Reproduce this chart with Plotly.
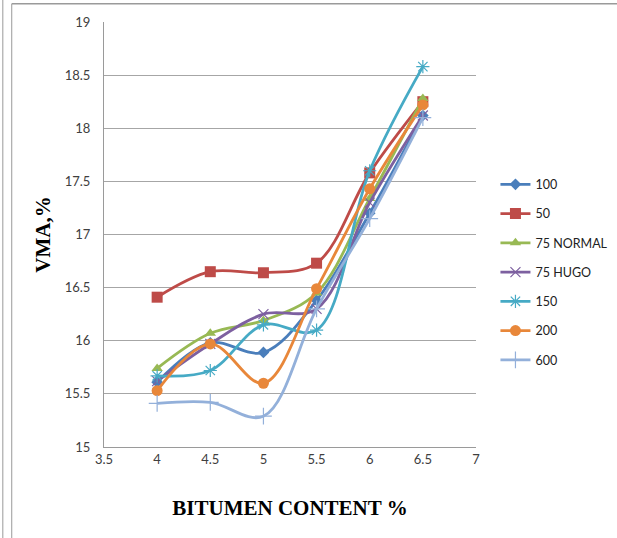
import plotly.graph_objects as go

bitumen = [4, 4.5, 5, 5.5, 6, 6.5]
series_names = ["100", "50", "75 NORMAL", "75 HUGO", "150", "200", "600"]
vma_100 = [15.61, 15.98, 15.89, 16.38, 17.2, 18.12]
vma_50 = [16.41, 16.65, 16.64, 16.73, 17.58, 18.25]
vma_75_normal = [15.74, 16.07, 16.19, 16.45, 17.34, 18.28]
vma_75_hugo = [15.62, 15.97, 16.25, 16.3, 17.3, 18.12]
vma_150 = [15.67, 15.72, 16.15, 16.1, 17.6, 18.58]
vma_200 = [15.53, 15.97, 15.6, 16.49, 17.43, 18.22]
vma_600 = [15.41, 15.42, 15.29, 16.3, 17.15, 18.1]
x_ticks = [3.5, 4, 4.5, 5, 5.5, 6, 6.5, 7]
y_ticks = [15, 15.5, 16, 16.5, 17, 17.5, 18, 18.5, 19]

values = [vma_100, vma_50, vma_75_normal, vma_75_hugo, vma_150, vma_200, vma_600]
colors = ["#4A7EBB", "#BE4B48", "#98B954", "#7D60A0", "#46AAC5", "#E8873A", "#93B0DA"]
symbols = ["diamond", "square", "triangle-up", "x-thin", "asterisk-open", "circle", "cross-thin"]
sizes = [9, 11, 10, 10, 11, 11, 12]

fig = go.Figure()
for i, (name, vals, c, s, sz) in enumerate(zip(series_names, values, colors, symbols, sizes)):
    marker = dict(symbol=s, size=sz, color=c)
    if s in ("x-thin", "asterisk-open", "cross-thin"):
        marker["line"] = dict(color=c, width=1.2)
    fig.add_trace(go.Scatter(
        x=bitumen, y=vals, name=name, mode="lines+markers", legendgroup=f"g{i}",
        line=dict(color=c, width=2.8, shape="spline", smoothing=1.0),
        marker=marker,
    ))

tick_font = dict(family="Lato, Open Sans, sans-serif", size=13, color="#404040")
title_font = dict(family="Liberation Serif, Times New Roman, serif", size=21, color="#000000")

fig.update_layout(
    width=617, height=538,
    margin=dict(l=104, r=141, t=22, b=91),
    paper_bgcolor="white", plot_bgcolor="white",
    showlegend=True,
    legend=dict(
        xref="container", yref="container",
        x=0.803, y=0.494, xanchor="left", yanchor="middle",
        font=dict(family="Lato, Open Sans, sans-serif", size=12.5, color="#222222"),
        tracegroupgap=10, itemwidth=30, bgcolor="rgba(0,0,0,0)",
    ),
    xaxis=dict(
        range=[3.5, 7], tickvals=x_ticks, ticktext=[f"{v:g}" for v in x_ticks],
        showgrid=False, zeroline=False, showline=True, linecolor="#9a9a9a", linewidth=1,
        ticks="", tickfont=tick_font, automargin=False,
        title=dict(text="<b>BITUMEN CONTENT %</b>", font=title_font, standoff=34),
    ),
    yaxis=dict(
        range=[15, 19], tickvals=y_ticks, ticktext=[f"{v:g}" for v in y_ticks],
        showgrid=True, gridcolor="#a6a6a6", gridwidth=1, zeroline=False,
        showline=True, linecolor="#9a9a9a", linewidth=1,
        ticks="", tickfont=tick_font, ticklabelstandoff=10, automargin=False,
        title=dict(text="<b>VMA,%</b>", font=title_font, standoff=8),
    ),
)

# outer frame lines
fig.add_shape(type="line", xref="paper", yref="paper", x0=-0.272, x1=-0.272, y0=-0.22, y1=1.06,
              line=dict(color="#9a9a9a", width=1))
fig.add_shape(type="line", xref="paper", yref="paper", x0=-0.248, x1=-0.248, y0=-0.22, y1=1.043,
              line=dict(color="#9a9a9a", width=1))
fig.add_shape(type="line", xref="paper", yref="paper", x0=-0.248, x1=1.38, y0=1.043, y1=1.043,
              line=dict(color="#9a9a9a", width=1.5))

fig.write_html("out.html", config={"displayModeBar": False},
               post_script="document.body.style.margin='0';document.body.style.overflow='hidden';")
